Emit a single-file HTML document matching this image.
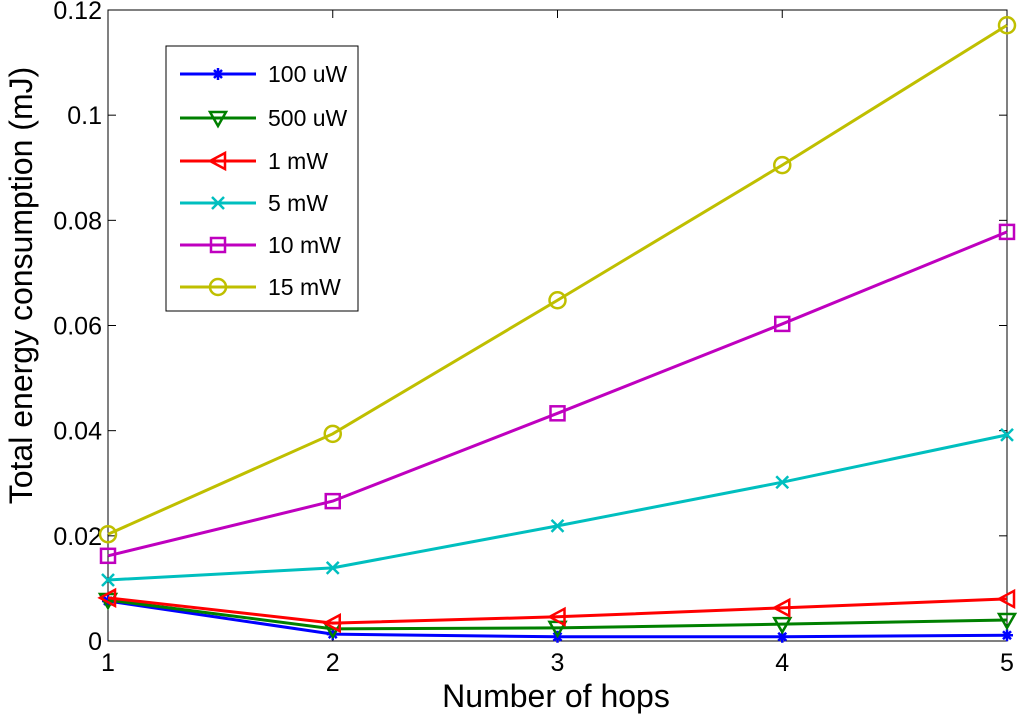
<!DOCTYPE html>
<html><head><meta charset="utf-8"><style>
body{margin:0;background:#fff;}
svg{display:block;font-family:"Liberation Sans",Arial,sans-serif;}
</style></head><body>
<svg id="chart" width="1024" height="720" viewBox="0 0 1024 720" xmlns="http://www.w3.org/2000/svg"></svg>
<script>
const hops = [1, 2, 3, 4, 5];
const xTicks = [1, 2, 3, 4, 5];
const yTicks = [0, 0.02, 0.04, 0.06, 0.08, 0.1, 0.12];
const yTickLabels = ["0", "0.02", "0.04", "0.06", "0.08", "0.1", "0.12"];
const seriesNames = ["100 uW", "500 uW", "1 mW", "5 mW", "10 mW", "15 mW"];
const s100uW = [0.0076, 0.0013, 0.0008, 0.0008, 0.0011];
const s500uW = [0.0078, 0.0023, 0.0025, 0.0032, 0.0040];
const s1mW = [0.0082, 0.0034, 0.0046, 0.0063, 0.0080];
const s5mW = [0.0116, 0.0139, 0.0219, 0.0302, 0.0392];
const s10mW = [0.0162, 0.0266, 0.0433, 0.0603, 0.0778];
const s15mW = [0.0203, 0.0394, 0.0648, 0.0905, 0.1171];

const NS = "http://www.w3.org/2000/svg";
const svg = document.getElementById("chart");
const L = 108, R = 1007, T = 10, B = 641;
const xs = v => L + (v - 1) / 4 * (R - L);
const ys = v => B - v / 0.12 * (B - T);
function el(tag, attrs, parent) {
  const e = document.createElementNS(NS, tag);
  for (const k in attrs) e.setAttribute(k, attrs[k]);
  (parent || svg).appendChild(e);
  return e;
}
const styles = [
  {c: "#0000ff", m: "star"}, {c: "#008000", m: "tri"}, {c: "#ff0000", m: "left"},
  {c: "#00bfbf", m: "x"}, {c: "#bf00bf", m: "sq"}, {c: "#bfbf00", m: "circ"}
];
const data = [s100uW, s500uW, s1mW, s5mW, s10mW, s15mW];
function marker(g, m, x, y, c) {
  const a = {fill: "none", stroke: c, "stroke-width": 2.5};
  let e;
  if (m === "circ") e = el("circle", Object.assign({cx: x, cy: y, r: 8}, a), g);
  else if (m === "sq") e = el("rect", Object.assign({x: x - 7, y: y - 7, width: 14, height: 14}, a), g);
  else if (m === "tri") e = el("polygon", Object.assign({points: `${x-8},${y-6} ${x+8},${y-6} ${x},${y+8}`}, a), g);
  else if (m === "left") e = el("polygon", Object.assign({points: `${x-8},${y} ${x+7},${y-8} ${x+7},${y+8}`}, a), g);
  else if (m === "x") e = el("path", Object.assign({d: `M${x-6},${y-6}L${x+6},${y+6}M${x-6},${y+6}L${x+6},${y-6}`}, a), g);
  else e = el("path", Object.assign({d: `M${x-6},${y}L${x+6},${y}M${x},${y-6}L${x},${y+6}M${x-4},${y-4}L${x+4},${y+4}M${x-4},${y+4}L${x+4},${y-4}`}, a), g);
  
  
}
const box = el("rect", {x: L, y: T, width: R - L, height: B - T, fill: "none", stroke: "#000", "stroke-width": 1});


xTicks.forEach(v => {
  const x = xs(v);
  el("line", {x1: x, y1: B, x2: x, y2: B - 8, stroke: "#000"});
  el("line", {x1: x, y1: T, x2: x, y2: T + 8, stroke: "#000"});
  const t = el("text", {x: x, y: B + 30, "text-anchor": "middle", "font-size": 25});
  t.textContent = v;
  
  
});
yTicks.forEach((v, i) => {
  const y = ys(v);
  el("line", {x1: L, y1: y, x2: L + 8, y2: y, stroke: "#000"});
  el("line", {x1: R, y1: y, x2: R - 8, y2: y, stroke: "#000"});
  const t = el("text", {x: L - 6, y: y + 9, "text-anchor": "end", "font-size": 25});
  t.textContent = yTickLabels[i];
  
  
});
const xt = el("text", {x: 556, y: 707, "text-anchor": "middle", "font-size": 32});
xt.textContent = "Number of hops";


const yt = el("text", {x: 0, y: 0, "text-anchor": "middle", "font-size": 32, transform: `translate(32,${(T + B) / 2 - 40}) rotate(-90)`});
yt.textContent = "Total energy consumption (mJ)";


data.forEach((arr, si) => {
  const g = el("g", {});
  
  
  const pts = arr.map((v, i) => xs(hops[i]) + "," + ys(v)).join(" ");
  el("polyline", {points: pts, fill: "none", stroke: styles[si].c, "stroke-width": 3}, g);
  arr.forEach((v, i) => marker(g, styles[si].m, xs(hops[i]), ys(v), styles[si].c));
});
const lg = el("g", {});


el("rect", {x: 166, y: 46, width: 192, height: 265, fill: "#fff", stroke: "#000"}, lg);
const ly = [74, 118, 161, 203, 245, 287];
seriesNames.forEach((n, i) => {
  const g = el("g", {}, lg);
  
  
  el("line", {x1: 180, y1: ly[i], x2: 256, y2: ly[i], stroke: styles[i].c, "stroke-width": 3}, g);
  marker(g, styles[i].m, 218, ly[i], styles[i].c);
  const t = el("text", {x: 268, y: ly[i] + 8, "font-size": 23}, g);
  t.textContent = n;
});
</script>
</body></html>
